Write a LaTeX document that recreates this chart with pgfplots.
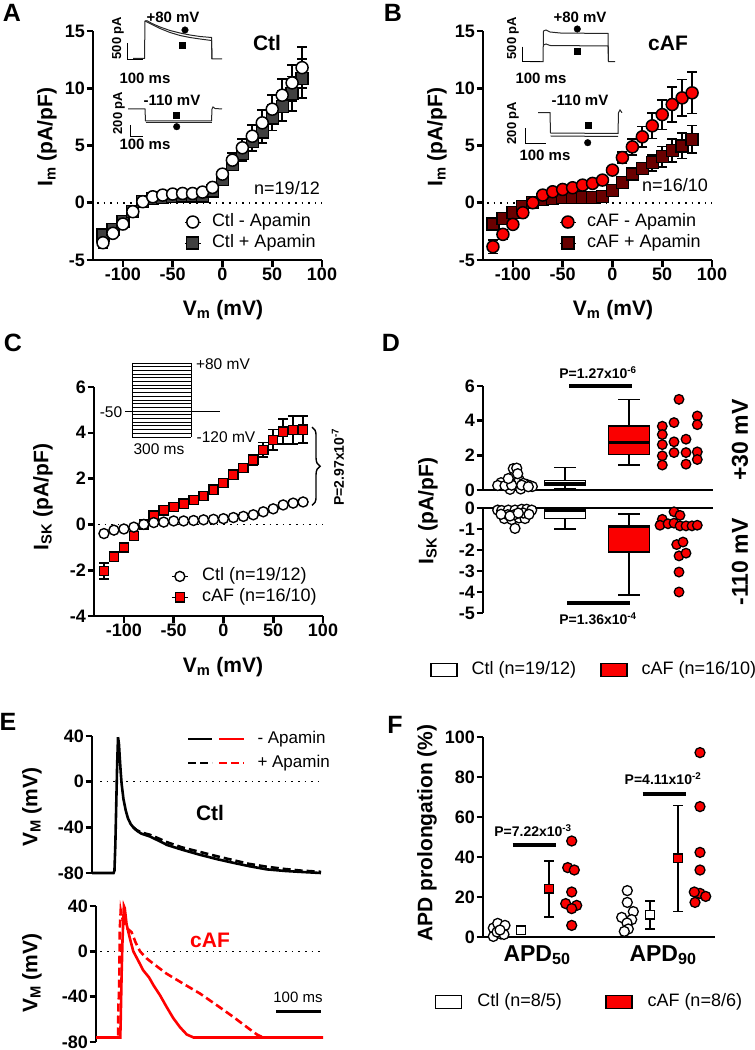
\documentclass[border=0pt]{standalone}
\usepackage{pgfplots}
\pgfplotsset{compat=1.18}
\usetikzlibrary{decorations.pathreplacing}
\usepackage{fontspec}
\setmainfont{Liberation Sans}
\definecolor{cafred}{RGB}{250,0,0}
\definecolor{dkred}{RGB}{105,0,0}
\definecolor{dkgray}{RGB}{64,64,64}
\newcommand{\fs}[1]{\fontsize{#1}{#1}\selectfont}
\tikzset{dotz/.style={black, line width=1.6pt, dash pattern=on 1.6pt off 5pt}}

\pgfplotsset{
  panel/.style={
    scale only axis, clip=false,
    axis x line=bottom, axis y line=left,
    axis line style={-, line width=2.6pt},
    every tick/.style={line width=2.6pt, black},
    tick align=outside, major tick length=6.5pt,
    ticklabel style={font=\bfseries\fs{18}, inner sep=1.5pt},
    /pgf/number format/assume math mode=true,
  },
  ivp/.style={panel, width=229pt, height=229pt, xmin=-130, xmax=100,
    xtick={-100,-50,0,50,100}},
  ebars/.style={/pgfplots/error bars/y dir=both, /pgfplots/error bars/y explicit,
    /pgfplots/error bars/error bar style={line width=1.8pt, black, solid},
    /pgfplots/error bars/error mark options={rotate=90, mark size=5pt, line width=1.8pt, black}},
  mlegend/.style={legend cell align=left, reverse legend,
    legend style={draw=none, fill=none, inner sep=0pt, outer sep=0pt,
      nodes={inner sep=0pt, text height=13pt, text depth=4pt}, row sep=4pt,
      font=\fs{18}, /tikz/every odd column/.append style={column sep=11pt}},
    legend image code/.code={\path (0pt,0pt)--(16pt,0pt); \draw[##1] plot coordinates {(8pt,0pt)};}},
  rlegend/.style={legend cell align=left, legend columns=2,
    legend style={draw=none, fill=none, inner sep=0pt, outer sep=0pt,
      nodes={inner sep=0pt, text height=13pt, text depth=4pt},
      font=\fs{18}, /tikz/every odd column/.append style={column sep=#1}},
    legend image code/.code={\draw[##1] (0pt,-6.5pt) rectangle (26pt,6.5pt);}},
  bxl/.style={forget plot, draw=black, line width=1.5pt},
}

\begin{document}
\begin{tikzpicture}
\useasboundingbox (0pt,0pt) rectangle (755pt,-1050pt);

% ================= A =================
\begin{axis}[ivp, at={(93pt,-260pt)}, anchor=south west,
  ymin=-5, ymax=15, ytick={-5,0,5,10,15}, mlegend,
  legend style={at={(axis cs:-38,-2.6)}, anchor=west}]
\draw[dotz] (axis cs:-126,0) -- (axis cs:100,0);
\addplot[only marks, mark=square*, mark size=6pt, mark options={fill=dkgray, draw=black, line width=1.3pt}, ebars]
 table[x index=0, y index=1, y error index=2] {
-120 -2.82 0.3
-110 -2.33 0.25
-100 -1.66 0.2
-90 -0.78 0.15
-80 0.09 0.1
-70 0.38 0.1
-60 0.47 0.1
-50 0.52 0.1
-40 0.58 0.1
-30 0.58 0.1
-20 0.58 0.1
-10 1.02 0.15
0 2.03 0.25
10 3.34 0.5
20 4.3 0.65
30 5.32 0.8
40 6.19 0.95
50 7.41 1.1
60 8.43 1.3
70 9.53 1.5
80 10.84 1.7
};
\addlegendentry{Ctl + Apamin}
\addplot[only marks, mark=*, mark size=6pt, mark options={fill=white, draw=black, line width=1.5pt}, ebars]
 table[x index=0, y index=1, y error index=2] {
-120 -3.49 0.45
-110 -2.67 0.35
-100 -1.86 0.25
-90 -0.78 0.2
-80 0.09 0.1
-70 0.52 0.1
-60 0.67 0.1
-50 0.76 0.1
-40 0.81 0.1
-30 0.81 0.1
-20 0.93 0.1
-10 1.34 0.2
0 2.5 0.3
10 3.72 0.65
20 4.8 0.8
30 5.81 0.95
40 6.98 1.1
50 8.17 1.25
60 9.39 1.4
70 10.47 1.55
80 11.8 1.8
};
\addlegendentry{Ctl - Apamin}
\end{axis}

% ================= B =================
\begin{axis}[ivp, at={(483pt,-260pt)}, anchor=south west,
  ymin=-5, ymax=15, ytick={-5,0,5,10,15}, mlegend,
  legend style={at={(axis cs:-53,-2.6)}, anchor=west}]
\draw[dotz] (axis cs:-126,0) -- (axis cs:100,0);
\addplot[only marks, mark=square*, mark size=6pt, mark options={fill=dkred, draw=black, line width=1.3pt}, ebars]
 table[x index=0, y index=1, y error index=2] {
-120 -1.86 0.2
-110 -1.37 0.15
-100 -0.87 0.1
-90 -0.35 0.1
-80 0.03 0.05
-70 0.29 0.05
-60 0.38 0.05
-50 0.44 0.05
-40 0.44 0.05
-30 0.44 0.05
-20 0.44 0.05
-10 0.52 0.1
0 1.05 0.15
10 1.74 0.2
20 2.5 0.3
30 3.0 0.5
40 3.49 0.7
50 4.01 0.9
60 4.59 1.0
70 4.97 1.1
80 5.55 1.2
};
\addlegendentry{cAF + Apamin}
\addplot[only marks, mark=*, mark size=6pt, mark options={fill=cafred, draw=black, line width=1.5pt}, ebars]
 table[x index=0, y index=1, y error index=2] {
-120 -3.84 0.6
-110 -2.76 0.4
-100 -1.89 0.25
-90 -0.87 0.2
-80 0.0 0.1
-70 0.67 0.15
-60 0.96 0.15
-50 1.16 0.15
-40 1.31 0.15
-30 1.54 0.15
-20 1.69 0.2
-10 1.98 0.2
0 2.85 0.3
10 3.95 0.5
20 4.88 0.7
30 5.76 0.9
40 6.72 1.1
50 7.7 1.3
60 8.58 1.5
70 9.16 1.6
80 9.6 1.8
};
\addlegendentry{cAF - Apamin}
\end{axis}

% ================= C =================
\begin{axis}[ivp, at={(94pt,-616pt)}, anchor=south west,
  ymin=-4, ymax=6, ytick={-4,-2,0,2,4,6}, mlegend,
  legend style={at={(axis cs:-52,-2.73)}, anchor=west, /tikz/every odd column/.append style={column sep=14pt}}]
\draw[dotz] (axis cs:-126,0) -- (axis cs:100,0);
\addplot[only marks, mark=square*, mark size=4.6pt, mark options={fill=cafred, draw=black, line width=1.3pt}, ebars]
 table[x index=0, y index=1, y error index=2] {
-120 -2.03 0.35
-110 -1.41 0.2
-100 -1.01 0.15
-90 -0.51 0.1
-80 0.0 0.05
-70 0.39 0.1
-60 0.61 0.1
-50 0.77 0.1
-40 0.91 0.1
-30 1.06 0.1
-20 1.23 0.1
-10 1.52 0.1
0 1.81 0.1
10 2.17 0.12
20 2.46 0.15
30 2.83 0.22
40 3.26 0.32
50 3.69 0.45
60 4.05 0.55
70 4.12 0.6
80 4.14 0.58
};
\addlegendentry{cAF (n=16/10)}
\addplot[only marks, mark=*, mark size=5pt, mark options={fill=white, draw=black, line width=1.4pt}, ebars]
 table[x index=0, y index=1, y error index=2] {
-120 -0.4 0.05
-110 -0.25 0.05
-100 -0.2 0.05
-90 -0.12 0.05
-80 0.0 0.03
-70 0.08 0.03
-60 0.1 0.03
-50 0.15 0.03
-40 0.15 0.03
-30 0.17 0.03
-20 0.2 0.03
-10 0.22 0.03
0 0.25 0.03
10 0.3 0.04
20 0.35 0.05
30 0.42 0.05
40 0.55 0.06
50 0.68 0.07
60 0.85 0.09
70 0.93 0.1
80 0.98 0.1
};
\addlegendentry{Ctl (n=19/12)}
\draw[decorate, decoration={brace, amplitude=8pt}, line width=1.4pt] (axis cs:89,4.25) -- (axis cs:89,0.83);
\end{axis}

% ================= D top =================
\begin{axis}[panel, at={(483pt,-490pt)}, anchor=south west, width=230pt, height=104pt,
  xmin=0, xmax=230, ymin=0, ymax=6, ytick={0,2,4,6}, xtick=\empty]
\addplot[bxl] coordinates {(82,0.05)(82,1.29)};
\addplot[bxl] coordinates {(71,1.29)(93,1.29)};
\addplot[bxl] coordinates {(71,0.05)(93,0.05)};
\addplot[bxl, fill=white] coordinates {(61.5,0.28)(102.5,0.28)(102.5,0.55)(61.5,0.55)} --cycle;
\addplot[bxl, line width=2.6pt] coordinates {(61.5,0.4)(102.5,0.4)};
\addplot[bxl] coordinates {(146,1.44)(146,5.23)};
\addplot[bxl] coordinates {(135,5.23)(157,5.23)};
\addplot[bxl] coordinates {(135,1.44)(157,1.44)};
\addplot[bxl, fill=cafred] coordinates {(125.5,2.04)(166.5,2.04)(166.5,3.7)(125.5,3.7)} --cycle;
\addplot[bxl, line width=2.6pt] coordinates {(125.5,2.73)(166.5,2.73)};
\addplot[only marks, mark=*, mark size=5pt, mark options={fill=white, draw=black, line width=1.3pt}] coordinates {
(18,0.42)(14.7,0.26)(27,0.04)(27,0.47)(32,0.89)(30.3,1.23)(33.7,1.26)(36.3,0.57)(37.7,0.06)(43.7,0.32)
(47,0.25)(49.3,0.2)(22,0.25)(28.7,0.28)(34.7,0.94)(40.3,0.38)(25.3,0.66)(38.7,0.28)(45.3,0.19)};
\addplot[only marks, mark=*, mark size=4.8pt, mark options={fill=cafred, draw=black, line width=1.3pt}] coordinates {
(179.3,3.68)(179.3,3.2)(179.3,2.62)(179.3,1.97)(179.3,1.44)(191,3.89)(191,2.78)(191,2.16)(196,5.23)
(203,2.93)(203,2.16)(203,1.49)(214.3,4.27)(214.3,3.77)(214.3,2.2)(214.3,1.76)};
\draw[line width=4pt] (axis cs:86,6) -- (axis cs:149,6);
\end{axis}

% ================= D bottom =================
\begin{axis}[panel, axis x line=top, axis line style={-, line width=2.6pt},
  at={(483pt,-613pt)}, anchor=south west, width=230pt, height=105pt,
  xmin=0, xmax=230, ymin=-5, ymax=0, ytick={-5,-4,-3,-2,-1,0}, xtick=\empty,
  rlegend=14pt, legend style={at={(axis description cs:-0.23,-0.543)}, anchor=west,
   /tikz/every even column/.append style={column sep=24pt}}]
\addlegendimage{fill=white, draw=black, line width=1.5pt}
\addlegendentry{Ctl (n=19/12)}
\addlegendimage{fill=cafred, draw=black, line width=1.5pt}
\addlegendentry{cAF (n=16/10)}
\addplot[bxl] coordinates {(82,-1.0)(82,-0.02)};
\addplot[bxl] coordinates {(71,-1.0)(93,-1.0)};
\addplot[bxl, fill=white] coordinates {(61.5,-0.5)(102.5,-0.5)(102.5,-0.06)(61.5,-0.06)} --cycle;
\addplot[bxl, line width=2.6pt] coordinates {(61.5,-0.14)(102.5,-0.14)};
\addplot[bxl] coordinates {(146,-4.14)(146,-0.29)};
\addplot[bxl] coordinates {(135,-0.29)(157,-0.29)};
\addplot[bxl] coordinates {(135,-4.14)(157,-4.14)};
\addplot[bxl, fill=cafred] coordinates {(125.5,-2.1)(166.5,-2.1)(166.5,-0.86)(125.5,-0.86)} --cycle;
\addplot[bxl, line width=2.6pt] coordinates {(125.5,-0.9)(166.5,-0.9)};
\addplot[forget plot, only marks, mark=*, mark size=5pt, mark options={fill=white, draw=black, line width=1.3pt}] coordinates {
(14.7,-0.1)(18.7,-0.12)(25.3,-0.1)(32,-0.1)(38.7,-0.06)(43.7,-0.06)(48.7,-0.1)(21.3,-0.5)(28.7,-0.55)
(36,-0.47)(42,-0.5)(24.7,-0.32)(31.3,-0.32)(40.3,-0.24)(32,-0.97)(18,-0.3)(46,-0.3)(27,-0.38)(35.3,-0.24)};
\addplot[forget plot, only marks, mark=*, mark size=4.8pt, mark options={fill=cafred, draw=black, line width=1.3pt}] coordinates {
(191,-0.18)(197,-0.35)(179.3,-0.54)(177,-0.82)(185,-0.75)(191,-0.72)(197,-0.85)(203,-0.85)(209,-0.85)
(214.3,-0.82)(193.7,-1.74)(200,-1.62)(196,-2.28)(203,-2.15)(196,-3.05)(196,-4.0)};
\draw[line width=4pt] (axis cs:84,-4.5) -- (axis cs:147,-4.5);
\end{axis}

% ================= E top =================
\begin{axis}[panel, axis x line=none, at={(92pt,-873pt)}, anchor=south west, width=229pt, height=137pt,
  xmin=0, xmax=510, ymin=-80, ymax=40, ytick={-80,-40,0,40},
  legend cell align=left,
  legend style={draw=none, fill=none, inner sep=0pt, outer sep=0pt,
      nodes={inner sep=0pt, text height=13pt, text depth=4pt}, row sep=7pt,
      font=\fs{17}, /tikz/every odd column/.append style={column sep=12pt},
      at={(axis cs:211.6,26.9)}, anchor=west}]
\addlegendimage{legend image code/.code={\draw[black,line width=2.5pt](0pt,0pt)--(24pt,0pt);\draw[red,line width=2.5pt](31pt,0pt)--(56pt,0pt);}}
\addlegendentry{- Apamin}
\addlegendimage{legend image code/.code={\draw[black,line width=2.5pt,dash pattern=on 8pt off 4pt](0pt,0pt)--(24pt,0pt);\draw[red,line width=2.5pt,dash pattern=on 8pt off 4pt](31pt,0pt)--(56pt,0pt);}}
\addlegendentry{+ Apamin}
\draw[dotz] (axis cs:18,0) -- (axis cs:510,0);
\addplot[forget plot, black, line width=2.6pt] coordinates {
(0,-80)(48,-80)(50,-78)(52,-55)(54,-20)(56,15)(58,39)(60,33)(62,20)(64,8)(66,-2)(70,-15)(75,-25)(80,-32)
(86,-37)(92,-40)(100,-43)(110,-45.5)(129,-48)(150,-52)(167,-55.4)(200,-59.5)(240,-64)(280,-68)(314,-71)
(350,-74)(389,-76.8)(430,-78.2)(463,-79)(510,-80)};
\addplot[forget plot, black, line width=2.6pt, dash pattern=on 8pt off 4pt] coordinates {
(92,-40)(100,-42.5)(110,-44.5)(129,-46.5)(150,-50)(167,-53)(200,-57.5)(240,-61.5)(280,-65.5)(314,-68.7)
(350,-72)(389,-74.5)(430,-76.5)(463,-77.8)(510,-79)};
\end{axis}

% ================= E bottom =================
\begin{axis}[panel, axis x line=none, at={(96pt,-1042pt)}, anchor=south west, width=227pt, height=136pt,
  xmin=0, xmax=505, ymin=-80, ymax=40, ytick={-80,-40,0,40}]
\draw[dotz] (axis cs:10,0) -- (axis cs:505,0);
\addplot[red, line width=2.6pt] coordinates {
(0,-76)(54,-76)(55,-60)(57,-20)(59,10)(62,40)(64,38)(68,24)(75,12)(83,0)(95,-9)(105,-16.7)(118,-23)
(128,-30)(142.5,-38.8)(157,-49)(172,-59)(187,-67)(202,-73.4)(217,-76)(505,-76)};
\addplot[red, line width=2.6pt, dash pattern=on 8pt off 4pt] coordinates {
(0,-76)(49,-76)(50,-45)(51,-40)(52,-20)(53,20)(55,36)(58,30)(62,26)(70,20)(79,17)(88,8)(98,0)(112,-6)
(128,-11)(157,-19.7)(194,-28.5)(231.6,-37.3)(269,-47.6)(306,-58)(335,-66.7)(358,-73.4)(372,-76)(505,-76)};
\draw[line width=3pt] (axis cs:401,-53) -- (axis cs:501,-53);
\end{axis}

% ================= F =================
\begin{axis}[panel, at={(483pt,-937pt)}, anchor=south west, width=232pt, height=200pt,
  xmin=0, xmax=232, ymin=0, ymax=100, ytick={0,20,40,60,80,100},
  xtick={54,180}, xticklabels={APD\textsubscript{50}, APD\textsubscript{90}},
  xticklabel style={font=\bfseries\fs{23}}, xtick style={draw=none},
  rlegend=15pt, legend style={at={(axis description cs:-0.207,-0.325)}, anchor=west,
   /tikz/every even column/.append style={column sep=43pt}}]
\addlegendimage{fill=white, draw=black, line width=1.5pt}
\addlegendentry{Ctl (n=8/5)}
\addlegendimage{fill=cafred, draw=black, line width=1.5pt}
\addlegendentry{cAF (n=8/6)}
\addplot[forget plot, only marks, mark=*, mark size=5pt, mark options={fill=white, draw=black, line width=1.3pt}] coordinates {
(10.3,4.5)(14.7,6.8)(22,5.8)(10.3,0.3)(18,1.5)(14,2.5)(21,1.3)(17,3.5)
(144.3,23.2)(144.3,17.3)(150.3,12.7)(138.7,9.8)(148.7,8.7)(144,7)(145.3,4)(141.3,2.8)};
\addplot[forget plot, only marks, mark=*, mark size=5pt, mark options={fill=cafred, draw=black, line width=1.3pt}] coordinates {
(88.7,48)(84.7,34.7)(91.3,33.5)(88.7,22.5)(82.7,16.7)(93.7,15.8)(88.7,14.2)(88.7,5.8)
(217,92.2)(217,65.2)(217,42.3)(217,33.5)(212,17.3)(217,21.8)(211.3,22.5)(222.7,20.3)};
\addplot[forget plot, only marks, mark=square*, mark size=4.3pt, mark options={fill=white, draw=black, line width=1.5pt}, ebars]
 table[x index=0, y index=1, y error index=2] {
38 3.3 1.2
167 11.1 6.9
};
\addplot[forget plot, only marks, mark=square*, mark size=4.3pt, mark options={fill=cafred, draw=black, line width=1.5pt}, ebars]
 table[x index=0, y index=1, y error index=2] {
66 24.1 13.9
195 39.3 26.5
};
\draw[line width=4pt] (axis cs:29.7,46) -- (axis cs:73,46);
\draw[line width=4pt] (axis cs:159.7,71.5) -- (axis cs:203,71.5);
\end{axis}

% ================= overlay: insets and protocol =================
\begin{axis}[at={(0pt,-1050pt)}, anchor=south west, scale only axis, width=755pt, height=1050pt,
  xmin=0, xmax=755, ymin=-1050, ymax=0, hide axis, clip=false]
\addplot[black!85, line width=1pt] coordinates {(133,-58.5)(144.5,-58.5)(145,-21)(147,-20.7)(152,-23.5)(160,-27)(170,-30.5)(180,-33)(190,-35)(200,-36.5)(211.5,-37.5)(212,-59)(222,-59)};
\addplot[black!85, line width=1pt] coordinates {(145,-21)(152,-24.5)(160,-28.5)(170,-32.5)(180,-35.5)(190,-37.5)(200,-39)(211.5,-40.5)(212,-59)};
\addplot[black, line width=1pt] coordinates {(127.3,-43.3)(127.3,-59.3)(142.7,-59.3)};
\addplot[only marks, mark=*, mark size=3.3pt, black] coordinates {(185,-30)};
\addplot[only marks, mark=square*, mark size=3pt, black] coordinates {(182,-45)};
\addplot[black!85, line width=1pt] coordinates {(128,-109)(145,-109)(145.5,-121)(211.5,-121)(212,-109)(213,-107)(215,-108.5)(222,-109)};
\addplot[black!85, line width=1pt] coordinates {(145.5,-123)(211.5,-123)};
\addplot[black, line width=1pt] coordinates {(130.7,-125)(130.7,-136.7)(143.3,-136.7)};
\addplot[only marks, mark=square*, mark size=3pt, black] coordinates {(176,-115.7)};
\addplot[only marks, mark=*, mark size=3.3pt, black] coordinates {(176.7,-126.7)};
\addplot[black!85, line width=1pt] coordinates {(530,-61.7)(543,-61.7)(543.5,-31)(546,-30)(550,-32)(560,-33)(608,-33.5)(608.5,-61.7)(615,-61.7)};
\addplot[black!85, line width=1pt] coordinates {(543.5,-45)(546,-44)(550,-45.5)(608,-46)(608.5,-61.7)};
\addplot[black, line width=1pt] coordinates {(522.3,-46.7)(522.3,-61.7)(540,-61.7)};
\addplot[only marks, mark=*, mark size=3.3pt, black] coordinates {(577.3,-29)};
\addplot[only marks, mark=square*, mark size=3pt, black] coordinates {(577.3,-51)};
\addplot[black!85, line width=1pt] coordinates {(538,-112.7)(550,-112.7)(550.5,-133)(618,-133.5)(618.5,-112.7)(620,-110)(622,-112.7)};
\addplot[black!85, line width=1pt] coordinates {(550.5,-136)(618,-136.5)};
\addplot[black, line width=1pt] coordinates {(525,-128.3)(525,-143.3)(546,-143.3)};
\addplot[only marks, mark=square*, mark size=3pt, black] coordinates {(587.7,-125)};
\addplot[only marks, mark=*, mark size=3.3pt, black] coordinates {(587.7,-142.7)};
\addplot[black, line width=0.9pt] coordinates {
(132,-363)(191,-363)(191,-366.7)(132,-366.7)(132,-370.4)(191,-370.4)(191,-374.1)(132,-374.1)
(132,-377.8)(191,-377.8)(191,-381.5)(132,-381.5)(132,-385.2)(191,-385.2)(191,-388.9)(132,-388.9)
(132,-392.6)(191,-392.6)(191,-396.3)(132,-396.3)(132,-400)(191,-400)(191,-403.7)(132,-403.7)
(132,-407.4)(191,-407.4)(191,-411.1)(132,-411.1)(132,-414.8)(191,-414.8)(191,-418.5)(132,-418.5)
(132,-422.2)(191,-422.2)(191,-425.9)(132,-425.9)(132,-429.6)(191,-429.6)(191,-433.3)(132,-433.3)
(132,-437)(191,-437)};
\addplot[black, line width=0.9pt] coordinates {(132,-363)(132,-437)};
\addplot[black, line width=0.9pt] coordinates {(191,-363)(191,-437)};
\addplot[black, line width=0.9pt] coordinates {(125,-411.1)(220,-411.1)};
\end{axis}

% ================= text =================
\tikzset{lab/.style={font=\bfseries\fs{25}}, axl/.style={font=\bfseries\fs{21}},
  ins/.style={font=\bfseries\fs{15}}, pv/.style={font=\bfseries\fs{14}}}
\node[lab] at (12pt,-13pt) {A};
\node[lab] at (393pt,-13pt) {B};
\node[lab] at (13pt,-343pt) {C};
\node[lab] at (391pt,-343pt) {D};
\node[lab] at (8pt,-722pt) {E};
\node[lab] at (395pt,-725pt) {F};
\node[axl, rotate=90] at (47pt,-137pt) {I\textsubscript{m} (pA/pF)};
\node[axl] at (223pt,-310pt) {V\textsubscript{m} (mV)};
\node[axl] at (267pt,-43pt) {Ctl};
\node[font=\fs{18}] at (287pt,-188pt) {n=19/12};
\node[ins] at (173pt,-17pt) {+80 mV};
\node[ins] at (145pt,-78pt) {100 ms};
\node[rotate=90, font=\bfseries\fs{13}] at (118pt,-38pt) {500 pA};
\node[ins] at (172pt,-100pt) {-110 mV};
\node[ins] at (145pt,-144pt) {100 ms};
\node[rotate=90, font=\bfseries\fs{13}] at (119pt,-113pt) {200 pA};
\node[axl, rotate=90] at (437pt,-137pt) {I\textsubscript{m} (pA/pF)};
\node[axl] at (613pt,-310pt) {V\textsubscript{m} (mV)};
\node[axl] at (668pt,-43pt) {cAF};
\node[font=\fs{18}] at (675pt,-185pt) {n=16/10};
\node[ins] at (580pt,-17pt) {+80 mV};
\node[ins] at (541pt,-78pt) {100 ms};
\node[rotate=90, font=\bfseries\fs{13}] at (513pt,-38pt) {500 pA};
\node[ins] at (580pt,-100pt) {-110 mV};
\node[ins] at (545pt,-155pt) {100 ms};
\node[rotate=90, font=\bfseries\fs{13}] at (513pt,-123pt) {200 pA};
\node[axl, rotate=90] at (43pt,-497pt) {I\textsubscript{SK} (pA/pF)};
\node[axl] at (223pt,-667pt) {V\textsubscript{m} (mV)};
\node[font=\fs{15.5}] at (223pt,-364pt) {+80 mV};
\node[font=\fs{15.5}] at (111pt,-412pt) {-50};
\node[font=\fs{15.5}] at (226pt,-437pt) {-120 mV};
\node[font=\fs{15.5}] at (159pt,-449pt) {300 ms};
\node[pv, rotate=90] at (338pt,-467pt) {P=2.97x10\textsuperscript{-7}};
\node[axl, rotate=90] at (428pt,-511pt) {I\textsubscript{SK} (pA/pF)};
\node[pv] at (598pt,-373pt) {P=1.27x10\textsuperscript{-6}};
\node[pv] at (598pt,-619pt) {P=1.36x10\textsuperscript{-4}};
\node[font=\bfseries\fs{23}, rotate=90] at (740pt,-440pt) {+30 mV};
\node[font=\bfseries\fs{23}, rotate=90] at (740pt,-562pt) {-110 mV};
\node[axl, rotate=90] at (32pt,-807pt) {V\textsubscript{M} (mV)};
\node[axl, rotate=90] at (32pt,-973pt) {V\textsubscript{M} (mV)};
\node[axl] at (210pt,-813pt) {Ctl};
\node[axl, text=red] at (210pt,-940pt) {cAF};
\node[font=\fs{15}] at (298pt,-997pt) {100 ms};
\node[axl, rotate=90] at (427pt,-833pt) {APD prolongation (\%)};
\node[pv] at (533pt,-831pt) {P=7.22x10\textsuperscript{-3}};
\node[pv] at (663pt,-779pt) {P=4.11x10\textsuperscript{-2}};
\end{tikzpicture}
\end{document}
